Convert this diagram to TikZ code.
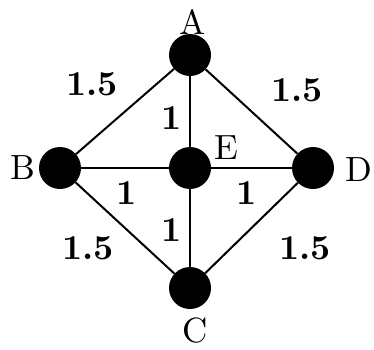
\documentclass[tikz,border=0pt]{standalone}
\usepackage{fontspec}
\setmainfont{lmroman10-regular}[Extension=.otf,BoldFont=lmroman10-bold]
\begin{document}
\begin{tikzpicture}[x=1pt,y=-1pt,
  vertex/.style={circle,fill=black,minimum size=42pt,inner sep=0pt},
  nlabel/.style={anchor=center,inner sep=0pt,font=\fontsize{35}{40}\selectfont},
  weight/.style={inner sep=2pt,font=\fontsize{35}{40}\selectfont\bfseries},
  link/.style={line width=2pt}]
\useasboundingbox (0,0) rectangle (374,349);
% vertices
\node[vertex,label={[nlabel,label distance=12pt,xshift=3pt]90:A}] (A) at (190,55) {};
\node[vertex,label={[nlabel,label distance=16pt]180:B}] (B) at (60,168) {};
\node[vertex,label={[nlabel,label distance=20pt]29:E}] (E) at (190,168) {};
\node[vertex,label={[nlabel,label distance=25pt,yshift=-2pt]0:D}] (D) at (313,168) {};
\node[vertex,label={[nlabel,label distance=21pt,xshift=5pt]270:C}] (C) at (190,288) {};
% edges
\draw[link] (B) -- node[weight,above left,xshift=-4pt,yshift=13pt] {1.5} (A);
\draw[link] (A) -- node[weight,above right,xshift=16.5pt,yshift=7pt] {1.5} (D);
\draw[link] (B) -- node[weight,below left,xshift=-8pt,yshift=-6pt] {1.5} (C);
\draw[link] (D) -- node[weight,below right,xshift=24.5pt,yshift=-6pt] {1.5} (C);
\draw[link] (A) -- node[weight,left,xshift=-5pt,yshift=-6.5pt] {1} (E);
\draw[link] (E) -- node[weight,left,xshift=-5pt,yshift=-2pt] {1} (C);
\draw[link] (B) -- node[weight,below,xshift=2pt,yshift=-11pt] {1} (E);
\draw[link] (E) -- node[weight,below,xshift=-4.5pt,yshift=-11pt] {1} (D);
\end{tikzpicture}
\end{document}
